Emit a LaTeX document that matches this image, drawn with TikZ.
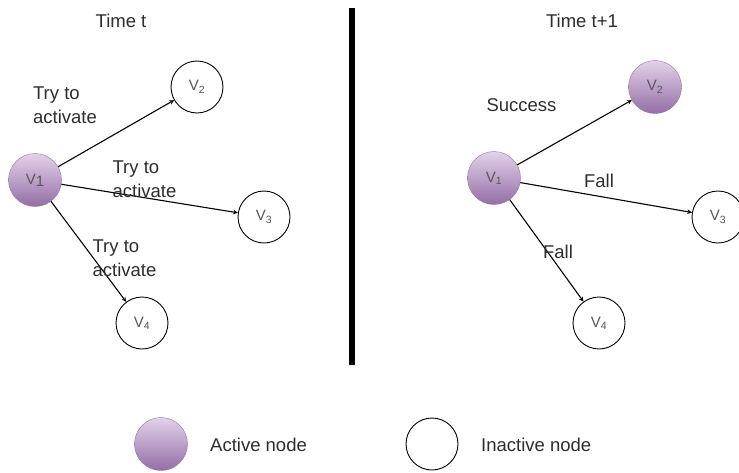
\documentclass[tikz,border=0pt]{standalone}
\usepackage{fontspec}
\setmainfont{Liberation Sans}
\definecolor{acttop}{RGB}{226,210,234}
\definecolor{actbot}{RGB}{148,110,165}
\definecolor{actline}{RGB}{150,115,162}
\definecolor{txt}{RGB}{45,45,45}
\tikzset{
  active/.style={circle, minimum size=53pt, inner sep=0pt, draw=actline, top color=acttop, bottom color=actbot, text=txt!80, font=\fontsize{15}{15}\selectfont},
  inactive/.style={circle, minimum size=52pt, inner sep=0pt, draw=black, line width=0.9pt, fill=white, text=txt!80, font=\fontsize{15}{15}\selectfont},
  edge/.style={->, >=stealth, black, line width=1.1pt},
  lbl/.style={align=left, inner sep=0pt, text=txt, font=\fontsize{18.5}{24}\selectfont}
}
\begin{document}
\begin{tikzpicture}[x=1pt, y=-1pt]
\useasboundingbox (0,0) rectangle (739,472);
% time t
\node[lbl] (tt) at (121,21) {Time t};
\node[active] (a1) at (35,180) {V\raisebox{-2pt}{1}};
\node[inactive] (a2) at (197,87) {V\textsubscript{2}};
\node[inactive] (a3) at (264,217) {V\textsubscript{3}};
\node[inactive] (a4) at (142,323) {V\textsubscript{4}};
\draw[edge] (a1) -- (a2);
\draw[edge] (a1) -- (a3);
\draw[edge] (a1) -- (a4);
\node[lbl] (ta2) at (65,105) {Try to\\activate};
\node[lbl] (ta3) at (144.5,179) {Try to\\activate};
\node[lbl] (ta4) at (124.5,258) {Try to\\activate};
% divider
\draw[line width=6pt] (352,8) -- (352,365);
% time t+1
\node[lbl] (tn) at (582,21) {Time t+1};
\node[active] (b1) at (494,178) {V\textsubscript{1}};
\node[active] (b2) at (655,87) {V\textsubscript{2}};
\node[inactive] (b3) at (718,217) {V\textsubscript{3}};
\node[inactive] (b4) at (599,323) {V\textsubscript{4}};
\draw[edge] (b1) -- (b2);
\draw[edge] (b1) -- (b3);
\draw[edge] (b1) -- (b4);
\node[lbl] (sb2) at (521.5,105) {Success};
\node[lbl] (fb3) at (599,181) {Fall};
\node[lbl] (fb4) at (558,252) {Fall};
% legend
\node[active] (la) at (161,444) {};
\node[lbl, anchor=west] (lat) at (210,445) {Active node};
\node[inactive] (li) at (432,444) {};
\node[lbl, anchor=west] (lit) at (481,445) {Inactive node};
\end{tikzpicture}
\end{document}
